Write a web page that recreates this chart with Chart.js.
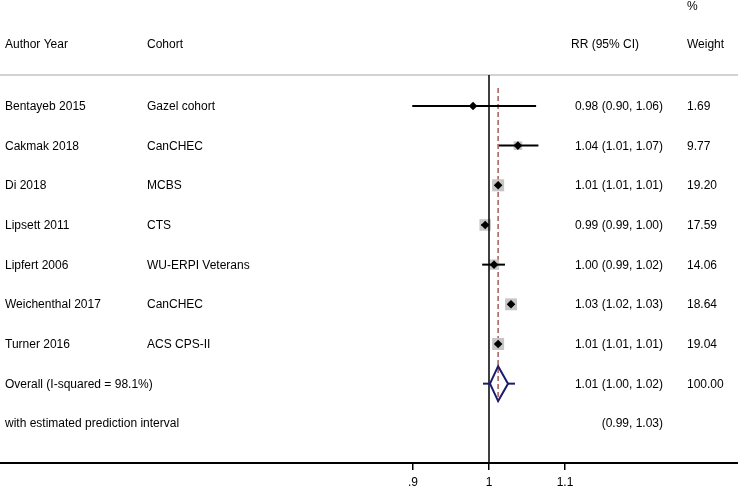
<!DOCTYPE html>
<html>
<head>
<meta charset="utf-8">
<script src="https://cdn.jsdelivr.net/npm/chart.js@4.4.0/dist/chart.umd.min.js"></script>
<style>
  html, body { margin: 0; padding: 0; background: #fff; }
  #wrap { width: 738px; height: 487px; }
</style>
</head>
<body>
<div id="wrap"><canvas id="forest"></canvas></div>
<script>
// study rows
const authors = ['Bentayeb 2015', 'Cakmak 2018', 'Di 2018', 'Lipsett 2011', 'Lipfert 2006', 'Weichenthal 2017', 'Turner 2016'];
const cohorts = ['Gazel cohort', 'CanCHEC', 'MCBS', 'CTS', 'WU-ERPI Veterans', 'CanCHEC', 'ACS CPS-II'];
const rr = [0.979, 1.038, 1.012, 0.995, 1.0066, 1.029, 1.012];
const ciLow = [0.899, 1.013, 1.010, 0.990, 0.991, 1.025, 1.010];
const ciHigh = [1.062, 1.065, 1.014, 0.999, 1.021, 1.033, 1.014];
const rrText = ['0.98 (0.90, 1.06)', '1.04 (1.01, 1.07)', '1.01 (1.01, 1.01)', '0.99 (0.99, 1.00)', '1.00 (0.99, 1.02)', '1.03 (1.02, 1.03)', '1.01 (1.01, 1.01)'];
const weights = [1.69, 9.77, 19.20, 17.59, 14.06, 18.64, 19.04];

// pooled estimate
const overallRR = 1.012;
const overallLow = 1.0013;
const overallHigh = 1.025;
const predLow = 0.9921;
const predHigh = 1.0342;
const overallLabel = 'Overall (I-squared = 98.1%)';
const overallText = '1.01 (1.00, 1.02)';
const overallWeight = '100.00';
const predLabel = 'with estimated prediction interval';
const predText = '(0.99, 1.03)';

// axis
const tickVals = [0.9, 1, 1.1];
const tickLabels = ['.9', '1', '1.1'];

const FONT = '"Liberation Sans", Arial, Helvetica, sans-serif';
const NAVY = '#1b1c6a';
const overallRow = authors.length + 1;
const predRow = authors.length + 2;

const rowPts = vals => vals.map((v, i) => ({ x: v, y: i + 1 }));
const seg = (a, b, y) => [{ x: a, y: y }, { x: b, y: y }];

const datasets = [];

// study point estimates
datasets.push({
  data: rowPts(rr), pointStyle: 'rectRot', pointRadius: 4.3,
  backgroundColor: '#000', borderWidth: 0, order: 0
});
// confidence intervals
authors.forEach((a, i) => {
  datasets.push({
    data: seg(ciLow[i], ciHigh[i], i + 1), showLine: true, pointRadius: 0,
    borderColor: '#000', borderWidth: 2, order: 1
  });
});
// weight boxes
datasets.push({
  data: rowPts(rr), pointStyle: 'rect',
  pointRadius: weights.map(w => 2.75 * Math.sqrt(w) / Math.SQRT2),
  backgroundColor: '#c6c6c6', borderWidth: 0, order: 3
});
// null line
datasets.push({
  data: [{ x: 1, y: 0.22 }, { x: 1, y: 10 }], showLine: true, pointRadius: 0,
  borderColor: '#000', borderWidth: 1.5, order: 2
});
// overall dashed line
datasets.push({
  data: [{ x: overallRR, y: 0.55 }, { x: overallRR, y: overallRow + 0.45 }], showLine: true, pointRadius: 0,
  borderColor: '#a85c5a', borderWidth: 1.5, borderDash: [5, 3], order: 4
});
// overall diamond
datasets.push({
  data: [
    { x: overallLow, y: overallRow }, { x: overallRR, y: overallRow - 0.44 },
    { x: overallHigh, y: overallRow }, { x: overallRR, y: overallRow + 0.44 },
    { x: overallLow, y: overallRow }
  ],
  showLine: true, pointRadius: 0, borderColor: NAVY, borderWidth: 2, order: 0
});
// prediction interval
datasets.push({
  data: seg(predLow, overallLow, overallRow), showLine: true, pointRadius: 0,
  borderColor: NAVY, borderWidth: 2, order: 0
});
datasets.push({
  data: seg(overallHigh, predHigh, overallRow), showLine: true, pointRadius: 0,
  borderColor: NAVY, borderWidth: 2, order: 0
});

// separator under header
const separator = {
  id: 'separator',
  beforeDatasetsDraw(chart) {
    const { ctx, width } = chart;
    const y = chart.scales.y.getPixelForValue(0.22);
    ctx.save();
    ctx.strokeStyle = '#d2d2d2';
    ctx.lineWidth = 2;
    ctx.beginPath();
    ctx.moveTo(0, y);
    ctx.lineTo(width, y);
    ctx.stroke();
    ctx.restore();
  }
};

// text columns
const columns = {
  id: 'columns',
  afterDraw(chart) {
    const { ctx } = chart;
    const ys = chart.scales.y;
    ctx.save();
    ctx.font = '12px ' + FONT;
    ctx.fillStyle = '#000';
    ctx.textBaseline = 'middle';
    const put = (t, x, row, align) => {
      ctx.textAlign = align || 'left';
      ctx.fillText(t, x, ys.getPixelForValue(row));
    };
    put('%', 687, -1.5);
    put('Author Year', 5, -0.54);
    put('Cohort', 147, -0.54);
    put('RR (95% CI)', 571, -0.54);
    put('Weight', 687, -0.54);
    authors.forEach((a, i) => {
      put(a, 5, i + 1.02);
      put(cohorts[i], 147, i + 1.02);
      put(rrText[i], 663, i + 1.02, 'right');
      put(weights[i].toFixed(2), 687, i + 1.02);
    });
    put(overallLabel, 5, overallRow + 0.02);
    put(overallText, 663, overallRow + 0.02, 'right');
    put(overallWeight, 687, overallRow + 0.02);
    put(predLabel, 5, predRow + 0.02);
    put(predText, 663, predRow + 0.02, 'right');
    ctx.restore();
  }
};

new Chart(document.getElementById('forest'), {
  type: 'scatter',
  data: { datasets: datasets },
  options: {
    responsive: true,
    maintainAspectRatio: false,
    animation: false,
    layout: { padding: 0, autoPadding: false },
    plugins: { legend: { display: false }, tooltip: { enabled: false } },
    scales: {
      x: {
        type: 'linear',
        min: 1 - 489 / 760,
        max: 1 + 249 / 760,
        afterBuildTicks: s => { s.ticks = tickVals.map(v => ({ value: v })); },
        afterFit: s => { s.height = 24; },
        ticks: {
          callback: (v, i) => tickLabels[i],
          color: '#000', font: { size: 12, family: FONT },
          padding: 5, maxRotation: 0, autoSkip: false
        },
        grid: { drawOnChartArea: false, tickLength: 7, color: '#000', lineWidth: 1.5 },
        border: { color: '#000', width: 2 }
      },
      y: { type: 'linear', min: -1.67, max: 10, reverse: true, display: false }
    }
  },
  plugins: [separator, columns]
});
</script>
</body>
</html>
